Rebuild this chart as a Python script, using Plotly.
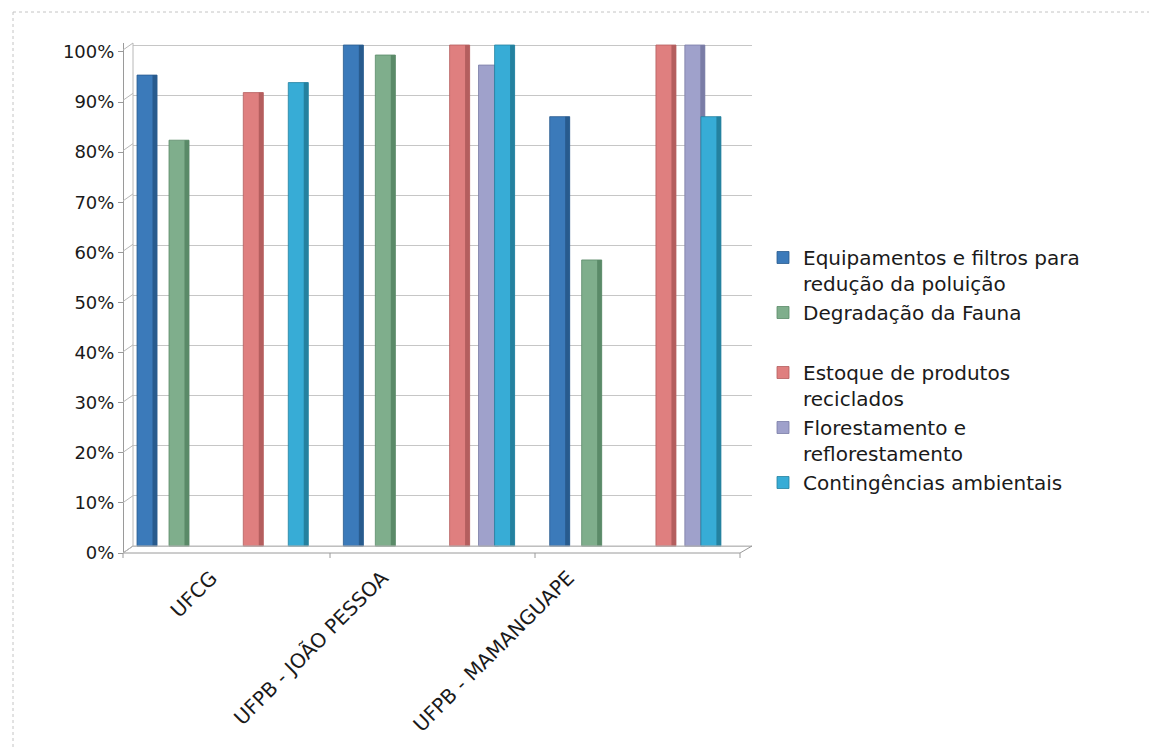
import plotly.graph_objects as go

# Categories (campuses) and share of respondents per environmental item
campuses = ["UFCG", "UFPB - JOÃO PESSOA", "UFPB - MAMANGUAPE"]
series_names = [
    "Equipamentos e filtros para<br>redução da poluição",
    "Degradação da Fauna",
    "Estoque de produtos<br>reciclados",
    "Florestamento e<br>reflorestamento",
    "Contingências ambientais",
]
equipamentos = [0.94, 1.00, 0.857]
degradacao = [0.81, 0.98, 0.571]
estoque = [0.905, 1.00, 1.00]
florestamento = [None, 0.96, 1.00]
contingencias = [0.925, 1.00, 0.857]
y_ticks = [0, 0.1, 0.2, 0.3, 0.4, 0.5, 0.6, 0.7, 0.8, 0.9, 1.0]

values = [equipamentos, degradacao, estoque, florestamento, contingencias]
colors = ["#3b7aba", "#7fae8c", "#df7f7f", "#9fa1cb", "#37acd6"]
sides = ["#285b8e", "#5a8a68", "#b45e5e", "#7a7ca6", "#24819f"]
# bar centre offsets inside each category (3-D style layout with a blank slot)
centres = [-0.432, -0.277, 0.083, 0.223, 0.301]
bar_w = 0.097
side_w = 0.022
groups = ["a", "a", "b", "b", "b"]
# rotated category labels: horizontal nudge of each label's end point (px)
label_shift = [-11, -47, -67]

W, H = 1149, 748
L, R, T, B = 123, 397, 43, 195
PW, PH = W - L - R, H - T - B


def px(x):
    return (x - L) / PW


def py(y):
    return (H - B - y) / PH


fig = go.Figure()
xs = list(range(len(campuses)))
for name, vals, c, s, cen, g in zip(series_names, values, colors, sides, centres, groups):
    fig.add_trace(go.Bar(
        x=xs, y=vals, name=name,
        width=bar_w, offset=cen - bar_w / 2,
        marker=dict(color=c, line=dict(color=s, width=0.8)),
        legendgroup=g, hoverinfo="y",
    ))
    # darker right-hand face of each column
    fig.add_trace(go.Bar(
        x=xs, y=vals, name=name, showlegend=False,
        width=side_w, offset=cen + bar_w / 2 - side_w,
        marker=dict(color=s, line=dict(width=0)),
        legendgroup=g, hoverinfo="skip",
    ))

shift = 7 / 503
line_c = "#b8b8b8"
axis_c = "#9a9a9a"


def seg(x0, y0, x1, y1, color, dash="solid"):
    return dict(type="line", xref="paper", yref="paper",
                x0=px(x0), x1=px(x1), y0=py(y0), y1=py(y1),
                line=dict(color=color, width=1, dash=dash))


shapes = [
    # chart area border
    seg(13, 12, 1149, 12, "#c4c4c4", "dot"),
    seg(13, 12, 13, 748, "#c4c4c4", "dot"),
    # back wall left edge
    seg(133, 43, 133, 546, line_c),
    # floor: front and back edges
    seg(123, 553, 740, 553, axis_c),
    seg(133, 546, 752, 546, line_c),
    seg(740, 553, 752, 546, axis_c),
    seg(123, 553, 133, 546, axis_c),
]
# floor tick marks at category boundaries
for bx in [123, 330, 535, 740]:
    shapes.append(seg(bx, 553, bx, 558, axis_c))
# connectors from front axis ticks to the back wall gridlines
for v in y_ticks:
    yf = 553 - v * 503
    shapes.append(seg(123, yf, 133, yf - 7, line_c))

annotations = []
for i, (lab, dx) in enumerate(zip(campuses, label_shift)):
    annotations.append(dict(
        x=i, xref="x", y=py(563), yref="paper", text=lab, showarrow=False,
        textangle=-45, xanchor="right", yanchor="top", xshift=dx,
        font=dict(size=20, family="DejaVu Sans", color="#1a1a1a"),
    ))

fig.update_layout(
    width=W, height=H,
    margin=dict(l=L, r=R, t=T, b=B),
    paper_bgcolor="white", plot_bgcolor="white",
    barmode="overlay",
    font=dict(family="DejaVu Sans", color="#1a1a1a"),
    xaxis=dict(
        domain=[10 / PW, 1], range=[-0.5, 2.5],
        tickvals=xs, showticklabels=False,
        showgrid=False, showline=False, zeroline=False, ticks="",
    ),
    yaxis=dict(
        range=[-shift, 1.004], tickvals=y_ticks, showticklabels=False,
        showgrid=True, gridcolor="#c6c6c6", gridwidth=1,
        zeroline=False, showline=False, ticks="",
    ),
    yaxis2=dict(
        overlaying="y", anchor="free", position=0, side="left",
        range=[0, 1.004 + shift], tickvals=y_ticks, tickformat=".0%",
        showgrid=False, zeroline=False,
        showline=True, linecolor=axis_c, linewidth=1,
        ticks="outside", ticklen=5, tickcolor=axis_c,
        tickfont=dict(size=18, family="DejaVu Sans", color="#1a1a1a"),
    ),
    legend=dict(
        x=px(763), y=py(238), xanchor="left", yanchor="top",
        font=dict(size=20, family="DejaVu Sans", color="#1a1a1a"),
        tracegroupgap=31, traceorder="grouped", valign="top",
        itemwidth=30, bgcolor="rgba(0,0,0,0)",
    ),
    shapes=shapes,
    annotations=annotations,
)
# invisible trace on the front axis so its ticks are drawn
fig.add_trace(go.Scatter(x=[None], y=[None], yaxis="y2", showlegend=False, hoverinfo="skip"))

fig.write_html("out.html")
